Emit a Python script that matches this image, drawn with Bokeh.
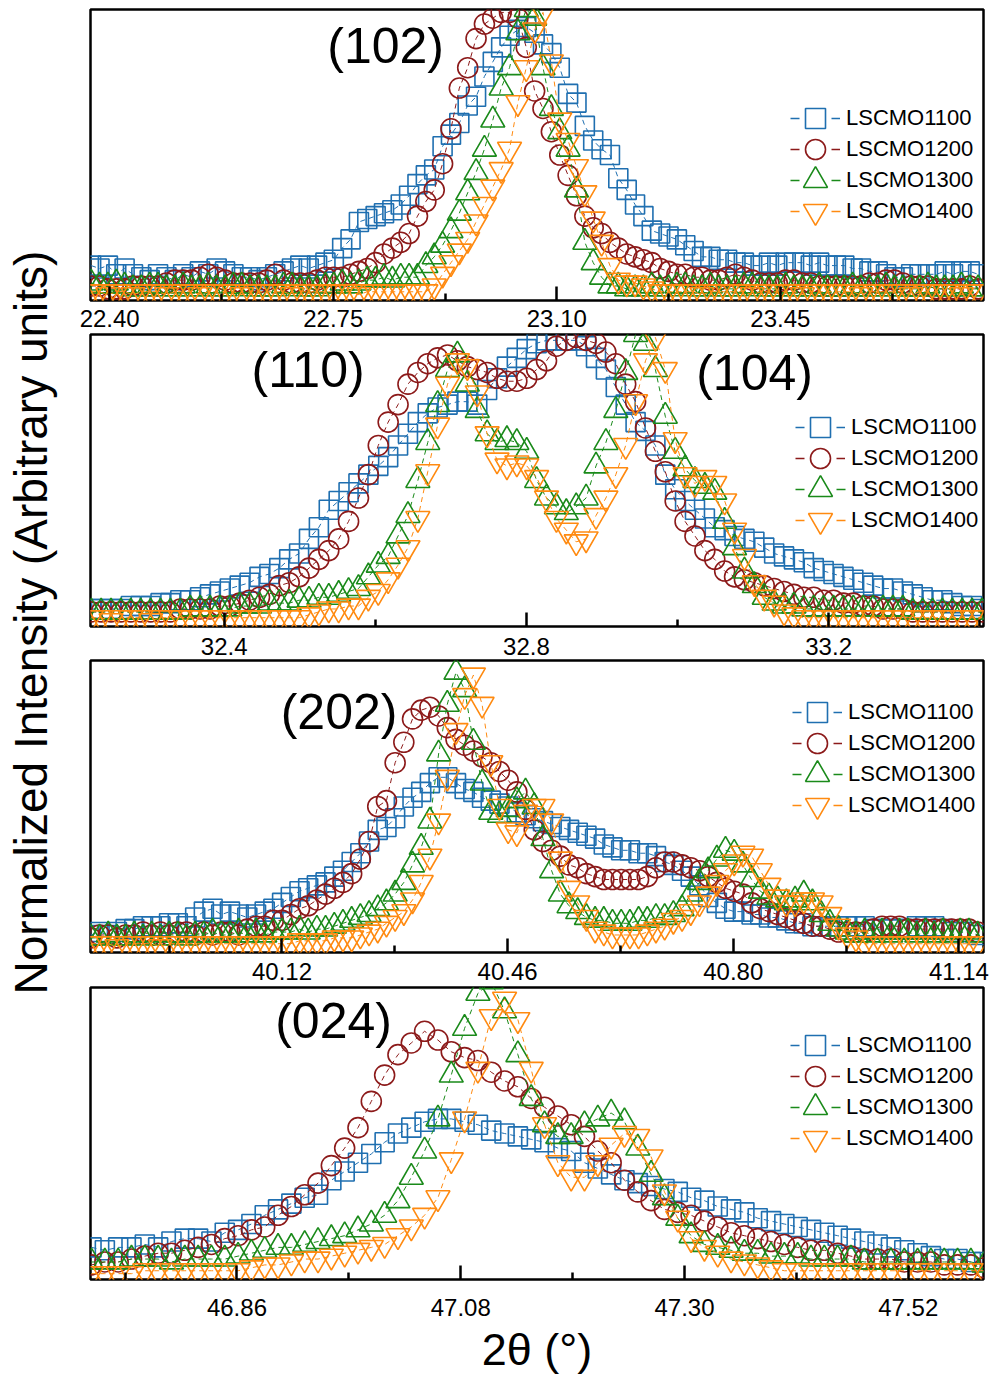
import numpy as np
from bokeh.plotting import figure
from bokeh.models import (Range1d, FixedTicker, PrintfTickFormatter, Legend,
                          LegendItem, ColumnDataSource, Label, LinearAxis)
from bokeh.layouts import column, row
from bokeh.embed import file_html
from bokeh.resources import INLINE

FONT = "Liberation Sans"
STEP = 0.0131  # 2θ scan step (degrees)

SAMPLES = ["LSCMO1100", "LSCMO1200", "LSCMO1300", "LSCMO1400"]
COLORS = ["#1f6fb0", "#8c1a1a", "#1a8a1a", "#ff8a10"]
MARKERS = ["square", "circle", "triangle", "inverted_triangle"]
SIZES = [19, 20, 24, 24]
KEY_BOX = [50, 50, 60, 60]  # legend swatch box; the legend marker is 0.4 of it

# ---------------- (102) reflection ----------------
X0_102 = 22.371
I102_1100 = [12, 11, 12, 9, 11, 9, 8, 7, 9, 8,
             7, 9, 8, 10, 9, 11, 10, 9, 8, 8,
             7, 8, 9, 10, 11, 12, 11, 12, 13, 14,
             18, 21, 27, 28, 29, 30, 31, 33, 36, 40,
             43, 45, 53, 57, 61, 67, 70, 77, 82, 87,
             91, 93, 94, 92, 88, 85, 80, 71, 68, 60,
             55, 52, 50, 42, 38, 33, 29, 24, 23, 22,
             21, 19, 17, 15, 15, 14, 14, 13, 13, 12,
             12, 13, 12, 13, 13, 13, 12, 13, 12, 12,
             12, 11, 11, 10, 10, 9, 8, 8, 9, 9,
             9, 9, 10, 9, 10, 10, 9]
I102_1200 = [5, 5, 4, 4, 4, 5, 5, 5, 5, 6,
             7, 7, 7, 8, 9, 8, 7, 6, 6, 6,
             6, 7, 9, 7, 6, 6, 6, 7, 8, 8,
             8, 9, 10, 11, 13, 16, 18, 20, 23, 29,
             34, 38, 47, 59, 73, 80, 90, 95, 97, 99,
             99, 97, 87, 72, 66, 58, 50, 43, 36, 29,
             25, 23, 20, 18, 16, 15, 14, 13, 11, 10,
             9, 9, 8, 8, 7, 7, 8, 9, 8, 7,
             6, 6, 6, 7, 7, 6, 6, 5, 5, 5,
             5, 5, 5, 6, 6, 7, 7, 6, 5, 5,
             5, 4, 4, 4, 4, 5, 4]
I102_1300 = [6, 5, 5, 6, 5, 4, 4, 5, 5, 4,
             4, 5, 4, 4, 5, 4, 4, 5, 5, 4,
             4, 4, 4, 5, 5, 4, 4, 4, 5, 5,
             6, 5, 6, 7, 7, 8, 7, 8, 8, 8,
             12, 15, 19, 24, 30, 37, 44, 52, 62, 73,
             80, 92, 100, 97, 80, 66, 58, 52, 38, 20,
             13, 8, 5, 5, 4, 4, 4, 5, 4, 4,
             5, 5, 4, 4, 5, 4, 4, 4, 5, 5,
             4, 4, 4, 5, 4, 4, 4, 5, 4, 4,
             4, 5, 4, 4, 4, 5, 4, 4, 4, 4,
             5, 4, 4, 4, 5, 4, 4]
I102_1400 = [3, 3, 2, 3, 3, 2, 3, 3, 3, 2,
             3, 3, 3, 2, 3, 3, 3, 3, 2, 3,
             3, 3, 3, 3, 2, 3, 3, 3, 3, 3,
             3, 3, 2, 3, 3, 3, 3, 3, 3, 3,
             3, 5, 9, 13, 17, 21, 27, 33, 39, 45,
             52, 68, 80, 93, 99, 82, 62, 55, 46, 37,
             28, 20, 12, 7, 6, 6, 5, 4, 3, 3,
             3, 3, 3, 2, 3, 3, 3, 3, 3, 2,
             3, 3, 3, 3, 3, 2, 3, 3, 3, 3,
             3, 3, 2, 3, 3, 3, 3, 3, 2, 3,
             3, 3, 3, 3, 2, 3, 3]

# ---------------- (110) / (104) reflections ----------------
X0_110 = 32.224
I110_1100 = [6, 6, 6, 6, 7, 7, 7, 8, 8, 9,
             9, 10, 11, 12, 13, 14, 15, 17, 18, 20,
             23, 25, 30, 34, 40, 43, 46, 49, 52, 55,
             58, 62, 66, 70, 73, 75, 76, 77, 77, 76,
             81, 85, 89, 92, 95, 97, 98, 98, 98, 98,
             96, 92, 88, 82, 76, 70, 67, 62, 52, 47,
             43, 40, 37, 34, 33, 31, 30, 29, 27, 25,
             24, 23, 22, 20, 19, 18, 17, 16, 15, 14,
             13, 13, 12, 11, 10, 9, 9, 8, 7, 7,
             6]
I110_1200 = [5, 5, 5, 5, 5, 5, 5, 5, 5, 6,
             6, 6, 6, 7, 7, 8, 9, 10, 11, 14,
             15, 17, 20, 23, 26, 30, 36, 44, 52, 62,
             70, 76, 83, 87, 90, 92, 93, 91, 89, 88,
             87, 85, 84, 84, 85, 88, 91, 96, 98, 99,
             98, 97, 94, 90, 83, 77, 68, 60, 53, 43,
             36, 31, 26, 23, 19, 17, 16, 15, 14, 13,
             12, 11, 10, 10, 9, 9, 8, 8, 7, 7,
             6, 6, 6, 5, 5, 5, 5, 5, 5, 5,
             5]
I110_1300 = [5, 5, 5, 5, 5, 5, 5, 5, 5, 5,
             6, 6, 6, 6, 6, 7, 7, 7, 8, 8,
             8, 9, 9, 10, 10, 11, 12, 13, 17, 21,
             24, 31, 38, 50, 63, 76, 88, 93, 83, 74,
             66, 63, 64, 63, 60, 50, 44, 41, 39, 41,
             44, 55, 63, 74, 87, 100, 97, 88, 72, 60,
             54, 50, 48, 46, 36, 27, 19, 14, 10, 8,
             7, 7, 6, 6, 6, 6, 6, 6, 6, 6,
             6, 6, 6, 5, 5, 5, 5, 5, 5, 5,
             5]
I110_1400 = [3, 3, 2, 3, 3, 3, 2, 3, 3, 3,
             3, 3, 3, 3, 3, 3, 3, 3, 3, 3,
             3, 3, 4, 5, 6, 6, 7, 7, 10, 12,
             16, 21, 27, 37, 53, 69, 83, 91, 89, 80,
             66, 57, 55, 56, 55, 51, 44, 37, 33, 29,
             30, 38, 44, 52, 62, 77, 91, 99, 88, 64,
             52, 49, 51, 49, 43, 33, 24, 15, 10, 8,
             5, 4, 3, 3, 3, 3, 3, 3, 3, 3,
             3, 3, 3, 3, 3, 3, 3, 3, 3, 3,
             3]

# ---------------- (202) reflection ----------------
X0_202 = 39.832
I202_1100 = [6, 7, 6, 7, 8, 8, 9, 9, 9, 10,
             10, 9, 12, 14, 15, 13, 14, 13, 12, 13,
             14, 15, 17, 19, 21, 22, 23, 24, 26, 28,
             31, 34, 38, 42, 43, 46, 50, 53, 55, 58,
             60, 60, 58, 56, 55, 53, 52, 51, 50, 48,
             47, 46, 45, 44, 43, 42, 41, 40, 39, 37,
             36, 35, 35, 34, 34, 33, 31, 30, 28, 26,
             23, 19, 17, 15, 14, 14, 13, 13, 12, 12,
             11, 10, 10, 9, 9, 9, 9, 9, 9, 9,
             8, 8, 8, 8, 8, 9, 9, 9, 8, 7,
             7, 7, 6]
I202_1200 = [5, 6, 6, 5, 6, 6, 7, 6, 7, 6,
             7, 7, 6, 7, 6, 7, 7, 6, 8, 9,
             9, 11, 11, 13, 15, 16, 18, 20, 22, 24,
             27, 32, 38, 50, 52, 65, 72, 80, 83, 84,
             81, 77, 73, 71, 69, 67, 65, 62, 59, 55,
             49, 42, 38, 35, 33, 30, 29, 27, 26, 25,
             25, 25, 25, 25, 26, 29, 31, 31, 30, 29,
             28, 26, 24, 22, 21, 20, 17, 15, 14, 13,
             12, 11, 10, 9, 9, 8, 7, 7, 7, 7,
             8, 9, 9, 9, 8, 8, 8, 8, 8, 8,
             8, 8, 7]
I202_1300 = [5, 5, 6, 5, 5, 6, 5, 6, 5, 6,
             6, 5, 6, 6, 7, 6, 6, 7, 6, 7,
             6, 7, 7, 7, 8, 7, 8, 8, 9, 10,
             11, 12, 13, 15, 17, 20, 24, 30, 36, 45,
             68, 85, 96, 90, 72, 58, 48, 47, 49, 52,
             55, 50, 39, 28, 20, 16, 14, 12, 11, 11,
             10, 10, 10, 11, 11, 12, 12, 13, 15, 20,
             24, 28, 32, 35, 34, 30, 25, 21, 19, 18,
             17, 18, 20, 17, 13, 10, 8, 7, 6, 7,
             6, 7, 6, 7, 7, 6, 7, 6, 7, 6,
             7, 7, 6]
I202_1400 = [3, 3, 3, 2, 3, 3, 3, 3, 2, 3,
             3, 3, 3, 3, 3, 3, 3, 3, 3, 3,
             3, 3, 3, 3, 4, 4, 4, 4, 5, 5,
             5, 6, 7, 8, 10, 12, 14, 18, 24, 33,
             45, 60, 76, 88, 95, 85, 65, 50, 42, 41,
             48, 50, 50, 45, 32, 22, 17, 12, 8, 7,
             6, 6, 6, 6, 7, 8, 9, 11, 12, 14,
             17, 20, 24, 28, 31, 34, 33, 28, 23, 19,
             17, 17, 18, 18, 17, 13, 9, 6, 5, 3,
             3, 3, 3, 3, 3, 3, 3, 3, 3, 3,
             3, 3, 3]

# ---------------- (024) reflection ----------------
X0_024 = 46.717
I024_1100 = [11, 10, 11, 11, 12, 11, 13, 14, 14, 13,
             16, 17, 19, 22, 24, 26, 28, 29, 34, 37,
             40, 43, 47, 50, 52, 54, 55, 55, 54, 53,
             51, 50, 49, 48, 47, 45, 44, 40, 38, 36,
             34, 33, 32, 31, 30, 28, 27, 25, 24, 23,
             21, 20, 19, 18, 17, 16, 15, 14, 13, 12,
             11, 10, 9, 8, 7, 7, 6, 6]
I024_1200 = [5, 6, 6, 7, 8, 9, 9, 10, 11, 12,
             14, 15, 17, 18, 22, 25, 29, 33, 39, 45,
             52, 61, 70, 77, 81, 85, 82, 78, 76, 75,
             71, 68, 66, 62, 59, 56, 53, 49, 44, 40,
             34, 30, 27, 24, 23, 22, 20, 18, 16, 15,
             14, 13, 12, 11, 10, 10, 9, 8, 7, 7,
             7, 6, 6, 6, 5, 5, 5, 4]
I024_1300 = [6, 6, 6, 7, 7, 7, 6, 7, 7, 7,
             7, 8, 9, 10, 11, 11, 12, 13, 14, 15,
             17, 19, 22, 27, 35, 44, 55, 70, 86, 98,
             102, 92, 77, 62, 53, 49, 49, 53, 55, 57,
             54, 45, 36, 28, 21, 15, 12, 11, 10, 9,
             9, 8, 8, 8, 7, 7, 7, 7, 6, 6,
             6, 6, 6, 6, 6, 6, 6, 5]
I024_1400 = [2, 2, 2, 2, 3, 3, 3, 3, 3, 3,
             3, 3, 4, 5, 5, 6, 7, 7, 8, 9,
             10, 11, 12, 15, 18, 22, 28, 41, 55, 72,
             90, 96, 89, 72, 53, 40, 35, 35, 40, 46,
             50, 49, 42, 30, 21, 14, 11, 9, 7, 6,
             5, 4, 3, 3, 3, 3, 3, 3, 3, 3,
             3, 3, 3, 3, 3, 3, 3, 3]

PANELS = [
    dict(x0=X0_102, series=[I102_1100, I102_1200, I102_1300, I102_1400],
         xr=(22.370, 23.768), majors=[22.40, 22.75, 23.10, 23.45],
         minors=[22.575, 22.925, 23.275, 23.625], fmt="%.2f", gap=8,
         tags=[("(102)", 22.832, 87.3)], key_x=700, key_top=181.7),
    dict(x0=X0_110, series=[I110_1100, I110_1200, I110_1300, I110_1400],
         xr=(32.223, 33.405), majors=[32.4, 32.8, 33.2],
         minors=[32.6, 33.0, 33.4], fmt="%.1f", gap=6,
         tags=[("(110)", 32.511, 87.7), ("(104)", 33.102, 86.8)],
         key_x=705, key_top=199.3),
    dict(x0=X0_202, series=[I202_1100, I202_1200, I202_1300, I202_1400],
         xr=(39.8315, 41.177), majors=[40.12, 40.46, 40.80, 41.14],
         minors=[39.95, 40.29, 40.63, 40.97], fmt="%.2f", gap=8,
         tags=[("(202)", 40.206, 82.2)], key_x=702, key_top=239.7),
    dict(x0=X0_024, series=[I024_1100, I024_1200, I024_1300, I024_1400],
         xr=(46.716, 47.594), majors=[46.86, 47.08, 47.30, 47.52],
         minors=[46.75, 46.97, 47.19, 47.41], fmt="%.2f", gap=19,
         tags=[("(024)", 46.955, 88.4)], key_x=700, key_top=234.0),
]

# canvas sizes: (height, border above frame, border below frame)
SIZING = [(302, 9, 2), (326, 32, 2), (326, 32, 2), (426, 33, 101)]
ROW_PITCH = 31


def style_labels(ax):
    ax.major_label_text_font = FONT
    ax.major_label_text_font_size = "24px"
    ax.major_label_text_color = "black"


def build_panel(cfg, sizing, prev=None, last=False):
    height, top, bottom = sizing
    p = figure(width=922, height=height, x_range=Range1d(*cfg["xr"]),
               y_range=Range1d(0, 100), output_backend="svg",
               toolbar_location=None, y_axis_location=None,
               min_border_left=20, min_border_right=9,
               min_border_top=top, min_border_bottom=bottom)
    p.grid.visible = False
    p.outline_line_color = "black"
    p.outline_line_width = 2.5
    p.background_fill_color = "white"
    p.border_fill_color = "white"

    # inward ticks on the bottom edge of the frame
    ax = p.xaxis[0]
    ax.ticker = FixedTicker(ticks=cfg["majors"], minor_ticks=cfg["minors"])
    ax.formatter = PrintfTickFormatter(format=cfg["fmt"])
    ax.axis_line_color = None
    ax.major_tick_in = 14
    ax.major_tick_out = 0
    ax.minor_tick_in = 7
    ax.minor_tick_out = 0
    ax.major_tick_line_width = 2.5
    ax.minor_tick_line_width = 2.5
    ax.major_tick_line_color = "black"
    ax.minor_tick_line_color = "black"
    style_labels(ax)
    if last:
        ax.major_label_standoff = cfg["gap"]
        ax.axis_label = "2θ (°)"
        ax.axis_label_text_font = FONT
        ax.axis_label_text_font_size = "45px"
        ax.axis_label_text_font_style = "normal"
        ax.axis_label_text_color = "black"
        ax.axis_label_standoff = 5
    else:
        # tick values of this panel are written in the gap above the next one
        ax.major_label_text_color = None
        ax.major_label_standoff = 0

    if prev is not None:
        p.extra_x_ranges = {"upper": Range1d(*prev["xr"])}
        up = LinearAxis(x_range_name="upper",
                        ticker=FixedTicker(ticks=prev["majors"]),
                        formatter=PrintfTickFormatter(format=prev["fmt"]),
                        axis_line_color=None, major_tick_line_color=None,
                        minor_tick_line_color=None, major_tick_in=0,
                        major_tick_out=0, minor_tick_in=0, minor_tick_out=0,
                        major_label_standoff=prev["gap"])
        style_labels(up)
        p.add_layout(up, "above")

    for k, (vals, name, color, marker, size, box) in enumerate(
            zip(cfg["series"], SAMPLES, COLORS, MARKERS, SIZES, KEY_BOX)):
        y = np.asarray(vals, dtype=float)
        x = cfg["x0"] + STEP * np.arange(len(y))
        p.line(x, y, line_color=color, line_width=1, line_dash="5 4")
        p.scatter(x, y, marker=marker, size=size, line_color=color,
                  line_width=1.6, fill_color=None)

        # legend swatch: short dash on each side of a white-filled marker,
        # centred in a 50 px wide slot whatever the swatch box size
        extra = (box - 50) // 2
        key = ColumnDataSource(data=dict(x=np.array([np.nan]),
                                         y=np.array([np.nan])))
        kl = p.line("x", "y", source=key, line_color=color, line_width=1.3,
                    line_dash="9 32", line_dash_offset=(41 - extra) % 41)
        ks = p.scatter("x", "y", source=key, marker=marker, size=size,
                       line_color=color, line_width=1.6, fill_color="white")
        centre = cfg["key_top"] - ROW_PITCH * k
        entry = Legend(items=[LegendItem(label=name, renderers=[kl, ks])],
                       location=(cfg["key_x"] - extra, centre - box / 2),
                       glyph_width=box, glyph_height=box,
                       label_standoff=6 - extra,
                       padding=0, margin=0, border_line_color=None,
                       background_fill_alpha=0, label_text_font=FONT,
                       label_text_font_size="22px", label_text_color="black")
        p.add_layout(entry)

    for text, tx, ty in cfg["tags"]:
        p.add_layout(Label(x=tx, y=ty, text=text, text_font=FONT,
                           text_font_size="50px", text_align="center",
                           text_baseline="middle", text_color="black"))
    return p


panels = []
for i, (cfg, sz) in enumerate(zip(PANELS, SIZING)):
    prev = PANELS[i - 1] if i > 0 else None
    panels.append(build_panel(cfg, sz, prev=prev, last=(i == len(PANELS) - 1)))

# shared y-axis title in a narrow strip on the left
strip = figure(width=70, height=1380, x_range=Range1d(0, 70),
               y_range=Range1d(0, 1380), output_backend="svg",
               toolbar_location=None, x_axis_location=None,
               y_axis_location=None, min_border=0)
strip.grid.visible = False
strip.outline_line_color = None
strip.background_fill_color = "white"
strip.border_fill_color = "white"
strip.add_layout(Label(x=30, y=758, text="Normalized Intensity (Arbitrary units)",
                       angle=np.pi / 2, text_font=FONT, text_font_size="46px",
                       text_align="center", text_baseline="middle",
                       text_color="black"))

layout = row(strip, column(*panels))

open("out.html", "w").write(file_html(layout, INLINE, title="XRD peak comparison"))
